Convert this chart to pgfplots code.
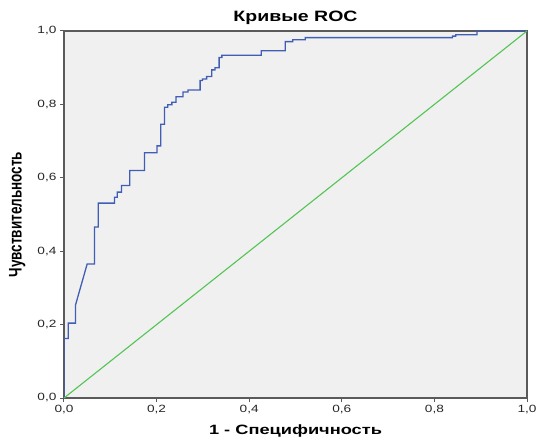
\documentclass[border=0pt]{standalone}
\usepackage{fontspec}
\setmainfont{Liberation Sans}
\usepackage{graphicx}
\usepackage{pgfplots}
\pgfplotsset{compat=1.18}

\definecolor{rocblue}{RGB}{64,94,182}
\definecolor{rocgreen}{RGB}{84,196,84}
\definecolor{plotbg}{RGB}{240,240,240}
\definecolor{frame}{RGB}{90,90,90}

% the reference is stretched sideways, so the texts are too
\newcommand{\wide}[2][1.32]{\scalebox{#1}[1]{#2}}

\begin{document}
\begin{tikzpicture}
\path[use as bounding box] (-64pt,-43pt) rectangle (473pt,398pt);
\begin{axis}[
    scale only axis,
    width=463pt, height=367pt,
    xmin=0, xmax=1, ymin=0, ymax=1,
    xtick={0,0.2,0.4,0.6,0.8,1},
    ytick={0,0.2,0.4,0.6,0.8,1},
    tick pos=left,
    tick align=outside,
    major tick length=4pt,
    every tick/.style={frame, line width=1pt},
    axis line style={frame, line width=1.2pt},
    axis background/.style={fill=plotbg},
    /pgf/number format/.cd, fixed, fixed zerofill, precision=1, use comma, assume math mode=true,
    /pgfplots/.cd,
    ticklabel style={font=\fontsize{10.5}{12}\selectfont, text=black!85},
    xticklabel={\wide[1.3]{\pgfmathprintnumber{\tick}}},
    yticklabel={\wide[1.3]{\pgfmathprintnumber{\tick}}},
    title={\wide[1.3]{\textbf{Кривые ROC}}},
    every axis title/.style={at={(axis description cs:0.5,1)}, yshift=13pt, anchor=center, font=\fontsize{15}{17}\selectfont},
    xlabel={\wide[1.35]{\textbf{1 - Специфичность}}},
    ylabel={\scalebox{1}[1.35]{\textbf{Чувствительность}}},
    every axis x label/.style={at={(axis description cs:0.5,-0.09)}, anchor=center, font=\fontsize{13.5}{15}\selectfont},
    every axis y label/.style={at={(axis description cs:-0.101,0.5)}, rotate=90, anchor=center, font=\fontsize{13.5}{15}\selectfont},
]
% ROC curve
\addplot[rocblue, line width=1.3pt] coordinates {
(0,0) (0,0.162) (0.009,0.162) (0.009,0.204) (0.025,0.204) (0.025,0.254)
(0.050,0.365) (0.066,0.365) (0.066,0.466) (0.074,0.466) (0.074,0.531)
(0.109,0.531) (0.109,0.547) (0.115,0.547) (0.115,0.561) (0.124,0.561)
(0.124,0.579) (0.142,0.579) (0.142,0.620) (0.174,0.620) (0.174,0.668)
(0.201,0.668) (0.201,0.687) (0.209,0.687) (0.209,0.746) (0.217,0.746)
(0.217,0.792) (0.224,0.792) (0.224,0.799) (0.233,0.799) (0.233,0.806)
(0.242,0.806) (0.242,0.821) (0.257,0.821) (0.257,0.834) (0.268,0.834)
(0.268,0.839) (0.294,0.839) (0.294,0.865) (0.299,0.865) (0.299,0.869)
(0.308,0.869) (0.308,0.876) (0.319,0.876) (0.319,0.894) (0.326,0.894)
(0.326,0.900) (0.335,0.900) (0.335,0.928) (0.341,0.928) (0.341,0.934)
(0.426,0.934) (0.426,0.946) (0.478,0.946) (0.478,0.971) (0.494,0.971)
(0.494,0.976) (0.521,0.976) (0.521,0.982) (0.839,0.982) (0.839,0.986)
(0.846,0.986) (0.846,0.990) (0.892,0.990) (0.892,1.0) (1,1)
};
% reference diagonal
\addplot[rocgreen, line width=1.1pt] coordinates {(0,0) (1,1)};
\end{axis}
\end{tikzpicture}
\end{document}
